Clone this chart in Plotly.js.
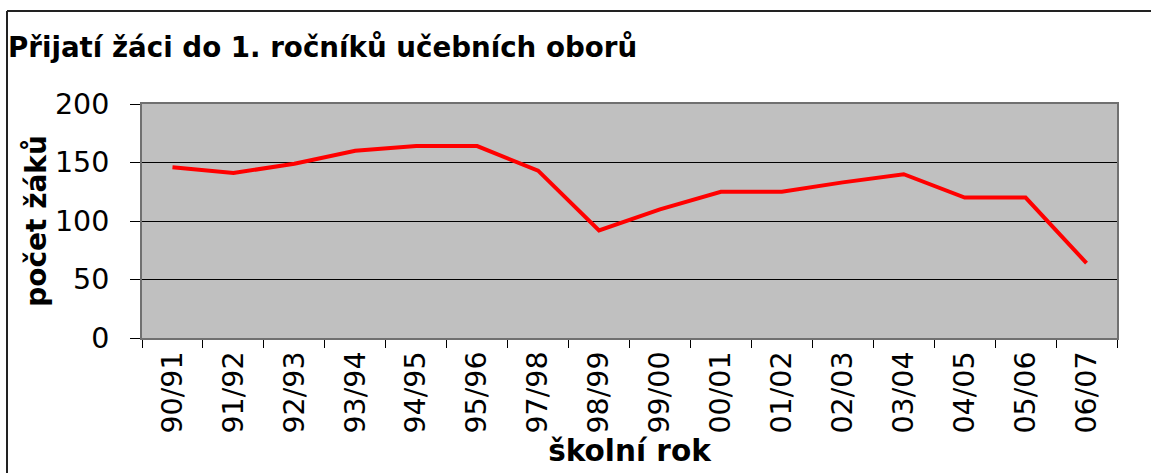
<!DOCTYPE html>
<html>
<head>
<meta charset="utf-8">
<script src="https://cdn.plot.ly/plotly-3.0.1.min.js"></script>
<style>
  html, body { margin: 0; padding: 0; background: #ffffff; }
  #chart { width: 1151px; height: 473px; }
</style>
</head>
<body>
<div id="chart"></div>
<script>
// Data
const schoolYears = ['90/91', '91/92', '92/93', '93/94', '94/95', '95/96', '97/98', '98/99',
                     '99/00', '00/01', '01/02', '02/03', '03/04', '04/05', '05/06', '06/07'];
const admittedPupils = [146, 141, 149, 160, 164, 164, 143, 92, 110, 125, 125, 133, 140, 120, 120, 64];
const yTickValues = [0, 50, 100, 150, 200];

const chartTitle = 'Přijatí žáci do 1. ročníků učebních oborů';
const xTitle = 'školní rok';
const yTitle = 'počet žáků';

const FONT = 'DejaVu Sans, Verdana, sans-serif';

const trace = {
  type: 'scatter',
  mode: 'lines',
  x: schoolYears,
  y: admittedPupils,
  line: { color: '#ff0000', width: 4 },
  hoverinfo: 'x+y'
};

const layout = {
  width: 1151,
  height: 473,
  margin: { l: 142, r: 34, t: 104, b: 135, pad: 0 },
  paper_bgcolor: '#ffffff',
  plot_bgcolor: '#c0c0c0',
  showlegend: false,
  font: { family: FONT, color: '#000000', size: 28 },
  title: {
    text: '<b>' + chartTitle + '</b>',
    font: { family: FONT, size: 27.7, color: '#000000' },
    xref: 'container', x: 8 / 1151, xanchor: 'left',
    yref: 'container', y: 1 - 47 / 473, yanchor: 'middle'
  },
  xaxis: {
    type: 'category',
    range: [-0.5, schoolYears.length - 0.5],
    tickson: 'boundaries',
    ticks: 'outside', ticklen: 8, tickwidth: 1, tickcolor: '#000000',
    tickangle: -90,
    tickfont: { family: FONT, size: 28.5, color: '#000000' },
    showgrid: false,
    showline: true, linecolor: '#707070', linewidth: 2, mirror: true,
    zeroline: false,
    title: {
      text: '<b>' + xTitle + '</b>',
      font: { family: FONT, size: 29.5, color: '#000000' },
      standoff: 2
    }
  },
  yaxis: {
    range: [0, 200],
    tickvals: yTickValues,
    ticktext: yTickValues.map(String),
    ticks: 'outside', ticklen: 10, tickwidth: 1, tickcolor: '#000000',
    tickfont: { family: FONT, size: 28.5, color: '#000000' },
    ticklabelstandoff: 15,
    showgrid: true, gridcolor: '#000000', gridwidth: 1,
    showline: true, linecolor: '#707070', linewidth: 2, mirror: true,
    zeroline: false,
    title: {
      text: '<b>' + yTitle + '</b>',
      font: { family: FONT, size: 28, color: '#000000' },
      standoff: 0
    }
  },
  shapes: [
    { type: 'line', xref: 'paper', yref: 'paper',
      x0: (7 - 142) / 975, x1: (1151 - 142) / 975 + 0.01,
      y0: (338 - 11) / 234, y1: (338 - 11) / 234,
      line: { color: '#222222', width: 2 } },
    { type: 'line', xref: 'paper', yref: 'paper',
      x0: (7 - 142) / 975, x1: (7 - 142) / 975,
      y0: (338 - 11) / 234, y1: (338 - 480) / 234,
      line: { color: '#222222', width: 2 } }
  ]
};

Plotly.newPlot('chart', [trace], layout, { displayModeBar: false, staticPlot: false });
</script>
</body>
</html>
